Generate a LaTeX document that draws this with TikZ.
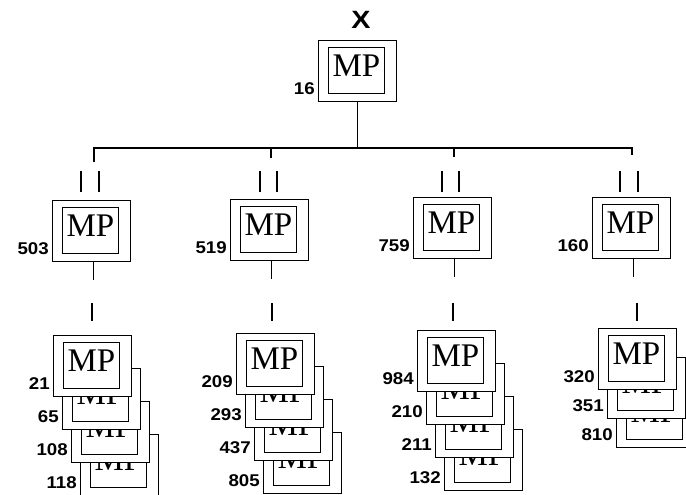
\documentclass[tikz,border=0pt]{standalone}
\usepackage{fontspec}
\setmainfont{Liberation Serif}
\newfontfamily\numfont{Liberation Sans}
\usetikzlibrary{calc}
\newcommand\mpcard[4]{%
  \node[outerbox] (#1) at (#2,#3) {};
  \node[innerbox] (#1i) at ({#2+10},{#3+7}) {};
  \node[mptext] (#1t) at ({#2+38.5},{#3+25.5}) {MP};
  \node[numlabel] (#1l) at ({#2-3},{#3+49}) {#4};
}
\begin{document}
\begin{tikzpicture}[x=1pt,y=-1pt,
  outerbox/.style={draw, fill=white, line width=1.2pt, minimum width=78pt, minimum height=61pt, inner sep=0pt, anchor=north west},
  innerbox/.style={draw, line width=1.2pt, minimum width=56pt, minimum height=46pt, inner sep=0pt, anchor=north west},
  mptext/.style={font=\fontsize{33}{33}\selectfont, inner sep=0pt},
  numlabel/.style={font=\numfont\bfseries\fontsize{17}{17}\selectfont, xscale=1.1, anchor=east, inner sep=0pt},
  wire/.style={line width=1.6pt},
  tickmark/.style={line width=2pt}]
\fill[white] (0,0) rectangle (686,495);
\useasboundingbox (0,0) rectangle (686,495);
\clip (0,0) rectangle (686,495);

% top
\node[font=\numfont\bfseries\fontsize{25}{25}\selectfont, xscale=1.15, inner sep=0pt] (X) at (361,20) {X};
\mpcard{top}{318}{40}{16}

% bus
\coordinate (b1) at (94,148);
\coordinate (b2) at (271,148);
\coordinate (b3) at (454,148);
\coordinate (b4) at (632,148);
\coordinate (d1) at (94,162);
\coordinate (d2) at (271,158);
\coordinate (d3) at (454,157);
\coordinate (d4) at (632,155);
\draw[wire] (top.south) -- (top.south |- b1);
\draw[wire] (d1) -- (b1) -- (b4) -- (d4);
\draw[wire] (b2) -- (d2);
\draw[wire] (b3) -- (d3);

% tick pairs
\foreach \x in {81,99,260,277,442,459,620,638}{
  \draw[tickmark] (\x,171) -- (\x,192);
}

% upper boxes
\mpcard{u1}{52}{200}{503}
\mpcard{u2}{230}{199}{519}
\mpcard{u3}{413}{197}{759}
\mpcard{u4}{592}{197}{160}

\foreach \n in {1,2,3,4}{
  \draw[wire] ([xshift=2pt]u\n.south) -- ++(0,18);
}

% lower ticks
\foreach \x in {92,272,453,637}{
  \draw[tickmark] (\x,303) -- (\x,321);
}

% column 1 stack
\mpcard{a4}{80}{434}{118}
\mpcard{a3}{71}{401}{108}
\mpcard{a2}{62}{368}{65}
\mpcard{a1}{53}{335}{21}

% column 2 stack
\mpcard{b4}{263}{432}{805}
\mpcard{b3}{254}{399}{437}
\mpcard{b2}{245}{366}{293}
\mpcard{b1}{236}{333}{209}

% column 3 stack
\mpcard{c4}{444}{429}{132}
\mpcard{c3}{435}{396}{211}
\mpcard{c2}{426}{363}{210}
\mpcard{c1}{417}{330}{984}

% column 4 stack
\mpcard{e3}{616}{386}{810}
\mpcard{e2}{607}{357}{351}
\mpcard{e1}{598}{328}{320}
\end{tikzpicture}
\end{document}
